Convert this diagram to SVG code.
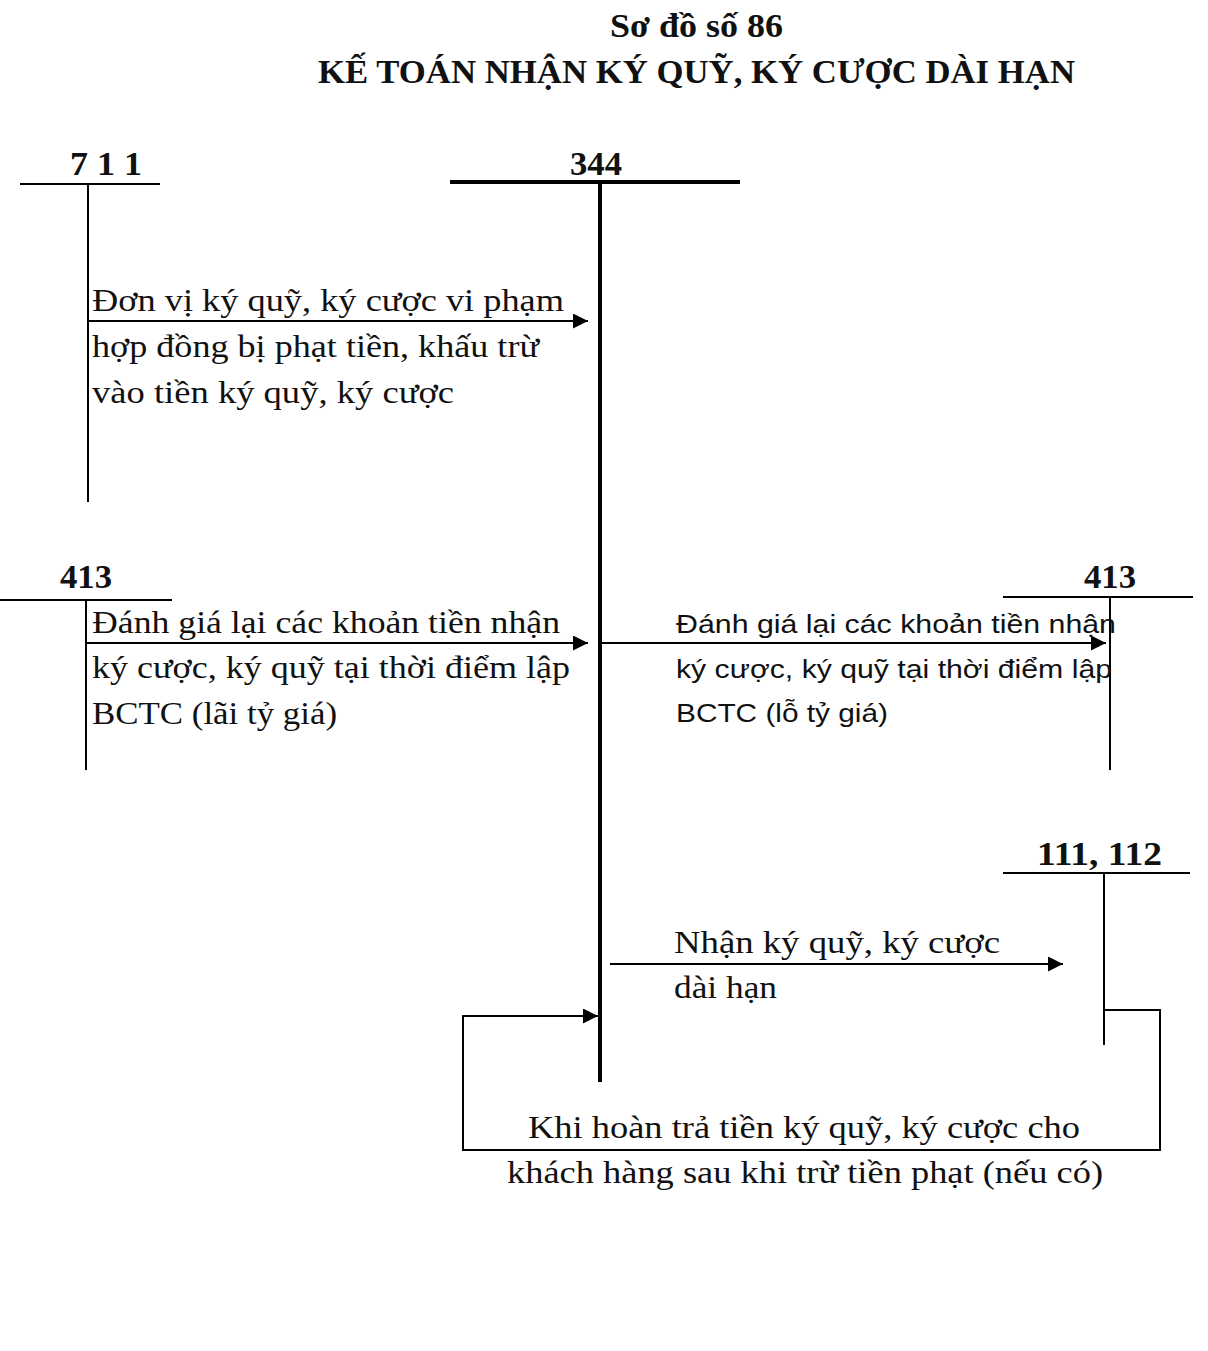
<svg xmlns="http://www.w3.org/2000/svg" width="1208" height="1351" viewBox="0 0 1208 1351">
<style>
.t{font-family:"Liberation Serif","Times New Roman",serif;font-size:32px;fill:#111}
.b{font-family:"Liberation Serif","Times New Roman",serif;font-size:34px;font-weight:bold;fill:#111}
.s{font-family:"Liberation Sans",Arial,sans-serif;font-size:26px;fill:#111}
.ln{stroke:#000;stroke-width:2;fill:none}
.tk{stroke:#000;stroke-width:4;fill:none}
</style>
<defs>
<marker id="ar" viewBox="0 0 10 10" refX="10" refY="5" markerWidth="20" markerHeight="15" markerUnits="userSpaceOnUse" orient="auto">
<path d="M0,0 L10,5 L0,10 z" fill="#000"/>
</marker>
</defs>
<rect width="1208" height="1351" fill="#fff"/>
<g id="title">
<text class="b" x="610" y="37" textLength="173" lengthAdjust="spacingAndGlyphs">Sơ đồ số 86</text>
<text class="b" x="318" y="83" textLength="757" lengthAdjust="spacingAndGlyphs">KẾ TOÁN NHẬN KÝ QUỸ, KÝ CƯỢC DÀI HẠN</text>
</g>
<g id="acc711">
<text class="b" x="70" y="175" textLength="72" lengthAdjust="spacingAndGlyphs">7 1 1</text>
<line class="ln" x1="20" y1="184" x2="160" y2="184"/>
<line class="ln" x1="88" y1="184" x2="88" y2="502"/>
</g>
<g id="acc344">
<text class="b" x="570" y="175" textLength="52" lengthAdjust="spacingAndGlyphs">344</text>
<line class="tk" x1="450" y1="182" x2="740" y2="182"/>
<line class="tk" x1="600" y1="182" x2="600" y2="1082"/>
</g>
<g id="acc413L">
<text class="b" x="60" y="588" textLength="52" lengthAdjust="spacingAndGlyphs">413</text>
<line class="ln" x1="0" y1="600" x2="172" y2="600"/>
<line class="ln" x1="86" y1="600" x2="86" y2="770"/>
</g>
<g id="acc413R">
<text class="b" x="1084" y="588" textLength="52" lengthAdjust="spacingAndGlyphs">413</text>
<line class="ln" x1="1003" y1="597" x2="1193" y2="597"/>
<line class="ln" x1="1110" y1="597" x2="1110" y2="770"/>
</g>
<g id="acc111">
<text class="b" x="1037" y="865" textLength="125" lengthAdjust="spacingAndGlyphs">111, 112</text>
<line class="ln" x1="1003" y1="873" x2="1190" y2="873"/>
<line class="ln" x1="1104" y1="873" x2="1104" y2="1045"/>
</g>
<g id="connectors">
<line class="ln" x1="88" y1="321" x2="588" y2="321" marker-end="url(#ar)"/>
<line class="ln" x1="86" y1="643" x2="588" y2="643" marker-end="url(#ar)"/>
<line class="ln" x1="602" y1="643" x2="1106" y2="643" marker-end="url(#ar)"/>
<line class="ln" x1="610" y1="964" x2="1063" y2="964" marker-end="url(#ar)"/>
<polyline class="ln" points="1104,1010 1160,1010 1160,1150 463,1150 463,1016 598,1016" marker-end="url(#ar)"/>
</g>
<g id="labels">
<text class="t" x="92" y="311" textLength="472" lengthAdjust="spacingAndGlyphs">Đơn vị ký quỹ, ký cược vi phạm</text>
<text class="t" x="92" y="357" textLength="447" lengthAdjust="spacingAndGlyphs">hợp đồng bị phạt tiền, khấu trừ</text>
<text class="t" x="92" y="403" textLength="362" lengthAdjust="spacingAndGlyphs">vào tiền ký quỹ, ký cược</text>
<text class="t" x="92" y="633" textLength="468" lengthAdjust="spacingAndGlyphs">Đánh giá lại các khoản tiền nhận</text>
<text class="t" x="92" y="678" textLength="478" lengthAdjust="spacingAndGlyphs">ký cược, ký quỹ tại thời điểm lập</text>
<text class="t" x="92" y="724" textLength="245" lengthAdjust="spacingAndGlyphs">BCTC (lãi tỷ giá)</text>
<text class="s" x="676" y="633" textLength="440" lengthAdjust="spacingAndGlyphs">Đánh giá lại các khoản tiền nhận</text>
<text class="s" x="676" y="678" textLength="436" lengthAdjust="spacingAndGlyphs">ký cược, ký quỹ tại thời điểm lập</text>
<text class="s" x="676" y="722" textLength="212" lengthAdjust="spacingAndGlyphs">BCTC (lỗ tỷ giá)</text>
<text class="t" x="674" y="953" textLength="326" lengthAdjust="spacingAndGlyphs">Nhận ký quỹ, ký cược</text>
<text class="t" x="674" y="998" textLength="103" lengthAdjust="spacingAndGlyphs">dài hạn</text>
<text class="t" x="528" y="1138" textLength="552" lengthAdjust="spacingAndGlyphs">Khi hoàn trả tiền ký quỹ, ký cược cho</text>
<text class="t" x="507" y="1183" textLength="596" lengthAdjust="spacingAndGlyphs">khách hàng sau khi trừ tiền phạt (nếu có)</text>
</g>
</svg>
